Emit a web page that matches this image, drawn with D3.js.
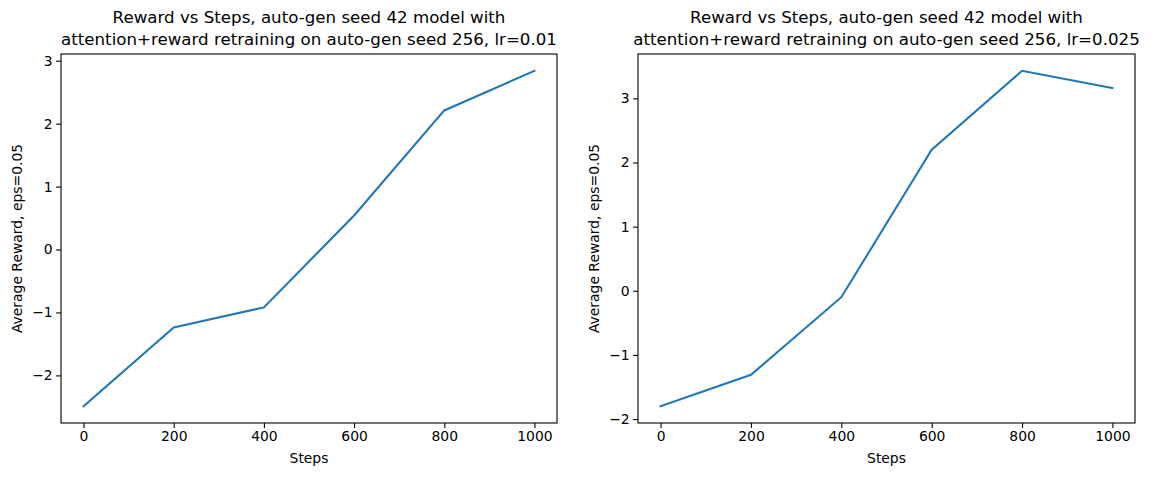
<!DOCTYPE html>
<html>
<head>
<meta charset="utf-8">
<script src="https://cdn.jsdelivr.net/npm/d3@7"></script>
<style>
  body { margin: 0; background: #fff; }
  text { font-family: "DejaVu Sans", sans-serif; fill: #000; }
</style>
</head>
<body>
<div id="chart"></div>
<script>
// data
steps = [0, 200, 400, 600, 800, 1000];
rewardLr001 = [-2.49, -1.24, -0.92, 0.54, 2.21, 2.84];
rewardLr0025 = [-1.80, -1.31, -0.10, 2.20, 3.43, 3.16];
xTicks = [0, 200, 400, 600, 800, 1000];
yTicksLeft = [-2, -1, 0, 1, 2, 3];
yTicksRight = [-2, -1, 0, 1, 2, 3];
titlesLeft = ["Reward vs Steps, auto-gen seed 42 model with", "attention+reward retraining on auto-gen seed 256, lr=0.01"];
titlesRight = ["Reward vs Steps, auto-gen seed 42 model with", "attention+reward retraining on auto-gen seed 256, lr=0.025"];
xLabel = "Steps";
yLabel = "Average Reward, eps=0.05";

ancho = 1172;
alto = 478;

var svg = d3.select("#chart").append("svg")
    .attr("width", ancho)
    .attr("height", alto);

// matplotlib style 5% padding
function pad(ext) {
    var d = (ext[1] - ext[0]) * 0.05;
    return [ext[0] - d, ext[1] + d];
}

function panel(left, right, top, bottom, valores, yTicks, titulos) {
    var g = svg.append("g");

    var x = d3.scaleLinear().domain(pad(d3.extent(steps))).range([left, right]);
    var y = d3.scaleLinear().domain(pad(d3.extent(valores))).range([bottom, top]);

    var ejeX = d3.axisBottom(x).tickValues(xTicks).tickSize(4.9).tickPadding(3.5).tickFormat(d3.format("d"));
    var ejeY = d3.axisLeft(y).tickValues(yTicks).tickSize(4.9).tickPadding(3.5)
        .tickFormat(function (d) { return d < 0 ? "\u2212" + Math.abs(d) : d; });

    var gx = g.append("g").attr("transform", "translate(0," + bottom + ")").call(ejeX);
    var gy = g.append("g").attr("transform", "translate(" + left + ",0)").call(ejeY);
    [gx, gy].forEach(function (a) {
        a.select(".domain").remove();
        a.selectAll(".tick line").attr("stroke", "#000").attr("stroke-width", 1.1);
        a.selectAll(".tick text").attr("font-size", "13.9px").attr("fill", "#000")
            .style("font-family", "DejaVu Sans, sans-serif");
    });

    var linea = d3.line()
        .x(function (d, i) { return x(steps[i]); })
        .y(function (d) { return y(d); });

    g.append("path")
        .datum(valores)
        .attr("d", linea)
        .attr("fill", "none")
        .attr("stroke", "#1f77b4")
        .attr("stroke-width", 2.08)
        .attr("stroke-linecap", "square");

    g.append("rect")
        .attr("x", left).attr("y", top)
        .attr("width", right - left).attr("height", bottom - top)
        .attr("fill", "none").attr("stroke", "#000").attr("stroke-width", 1.1);

    var cx = (left + right) / 2;
    g.selectAll(".titulo")
        .data(titulos)
        .enter()
        .append("text")
        .attr("class", "titulo")
        .attr("x", cx)
        .attr("y", function (d, i) { return 23 + i * 22; })
        .attr("text-anchor", "middle")
        .attr("font-size", "16.67px")
        .text(function (d) { return d; });

    g.append("text")
        .attr("x", cx).attr("y", 463)
        .attr("text-anchor", "middle")
        .attr("font-size", "13.9px")
        .text(xLabel);

    g.append("text")
        .attr("transform", "translate(" + (left - 39) + "," + ((top + bottom) / 2) + ") rotate(-90)")
        .attr("text-anchor", "middle")
        .attr("font-size", "13.9px")
        .text(yLabel);
}

panel(61, 557, 54, 423, rewardLr001, yTicksLeft, titlesLeft);
panel(638, 1135, 54, 423, rewardLr0025, yTicksRight, titlesRight);
</script>
</body>
</html>
